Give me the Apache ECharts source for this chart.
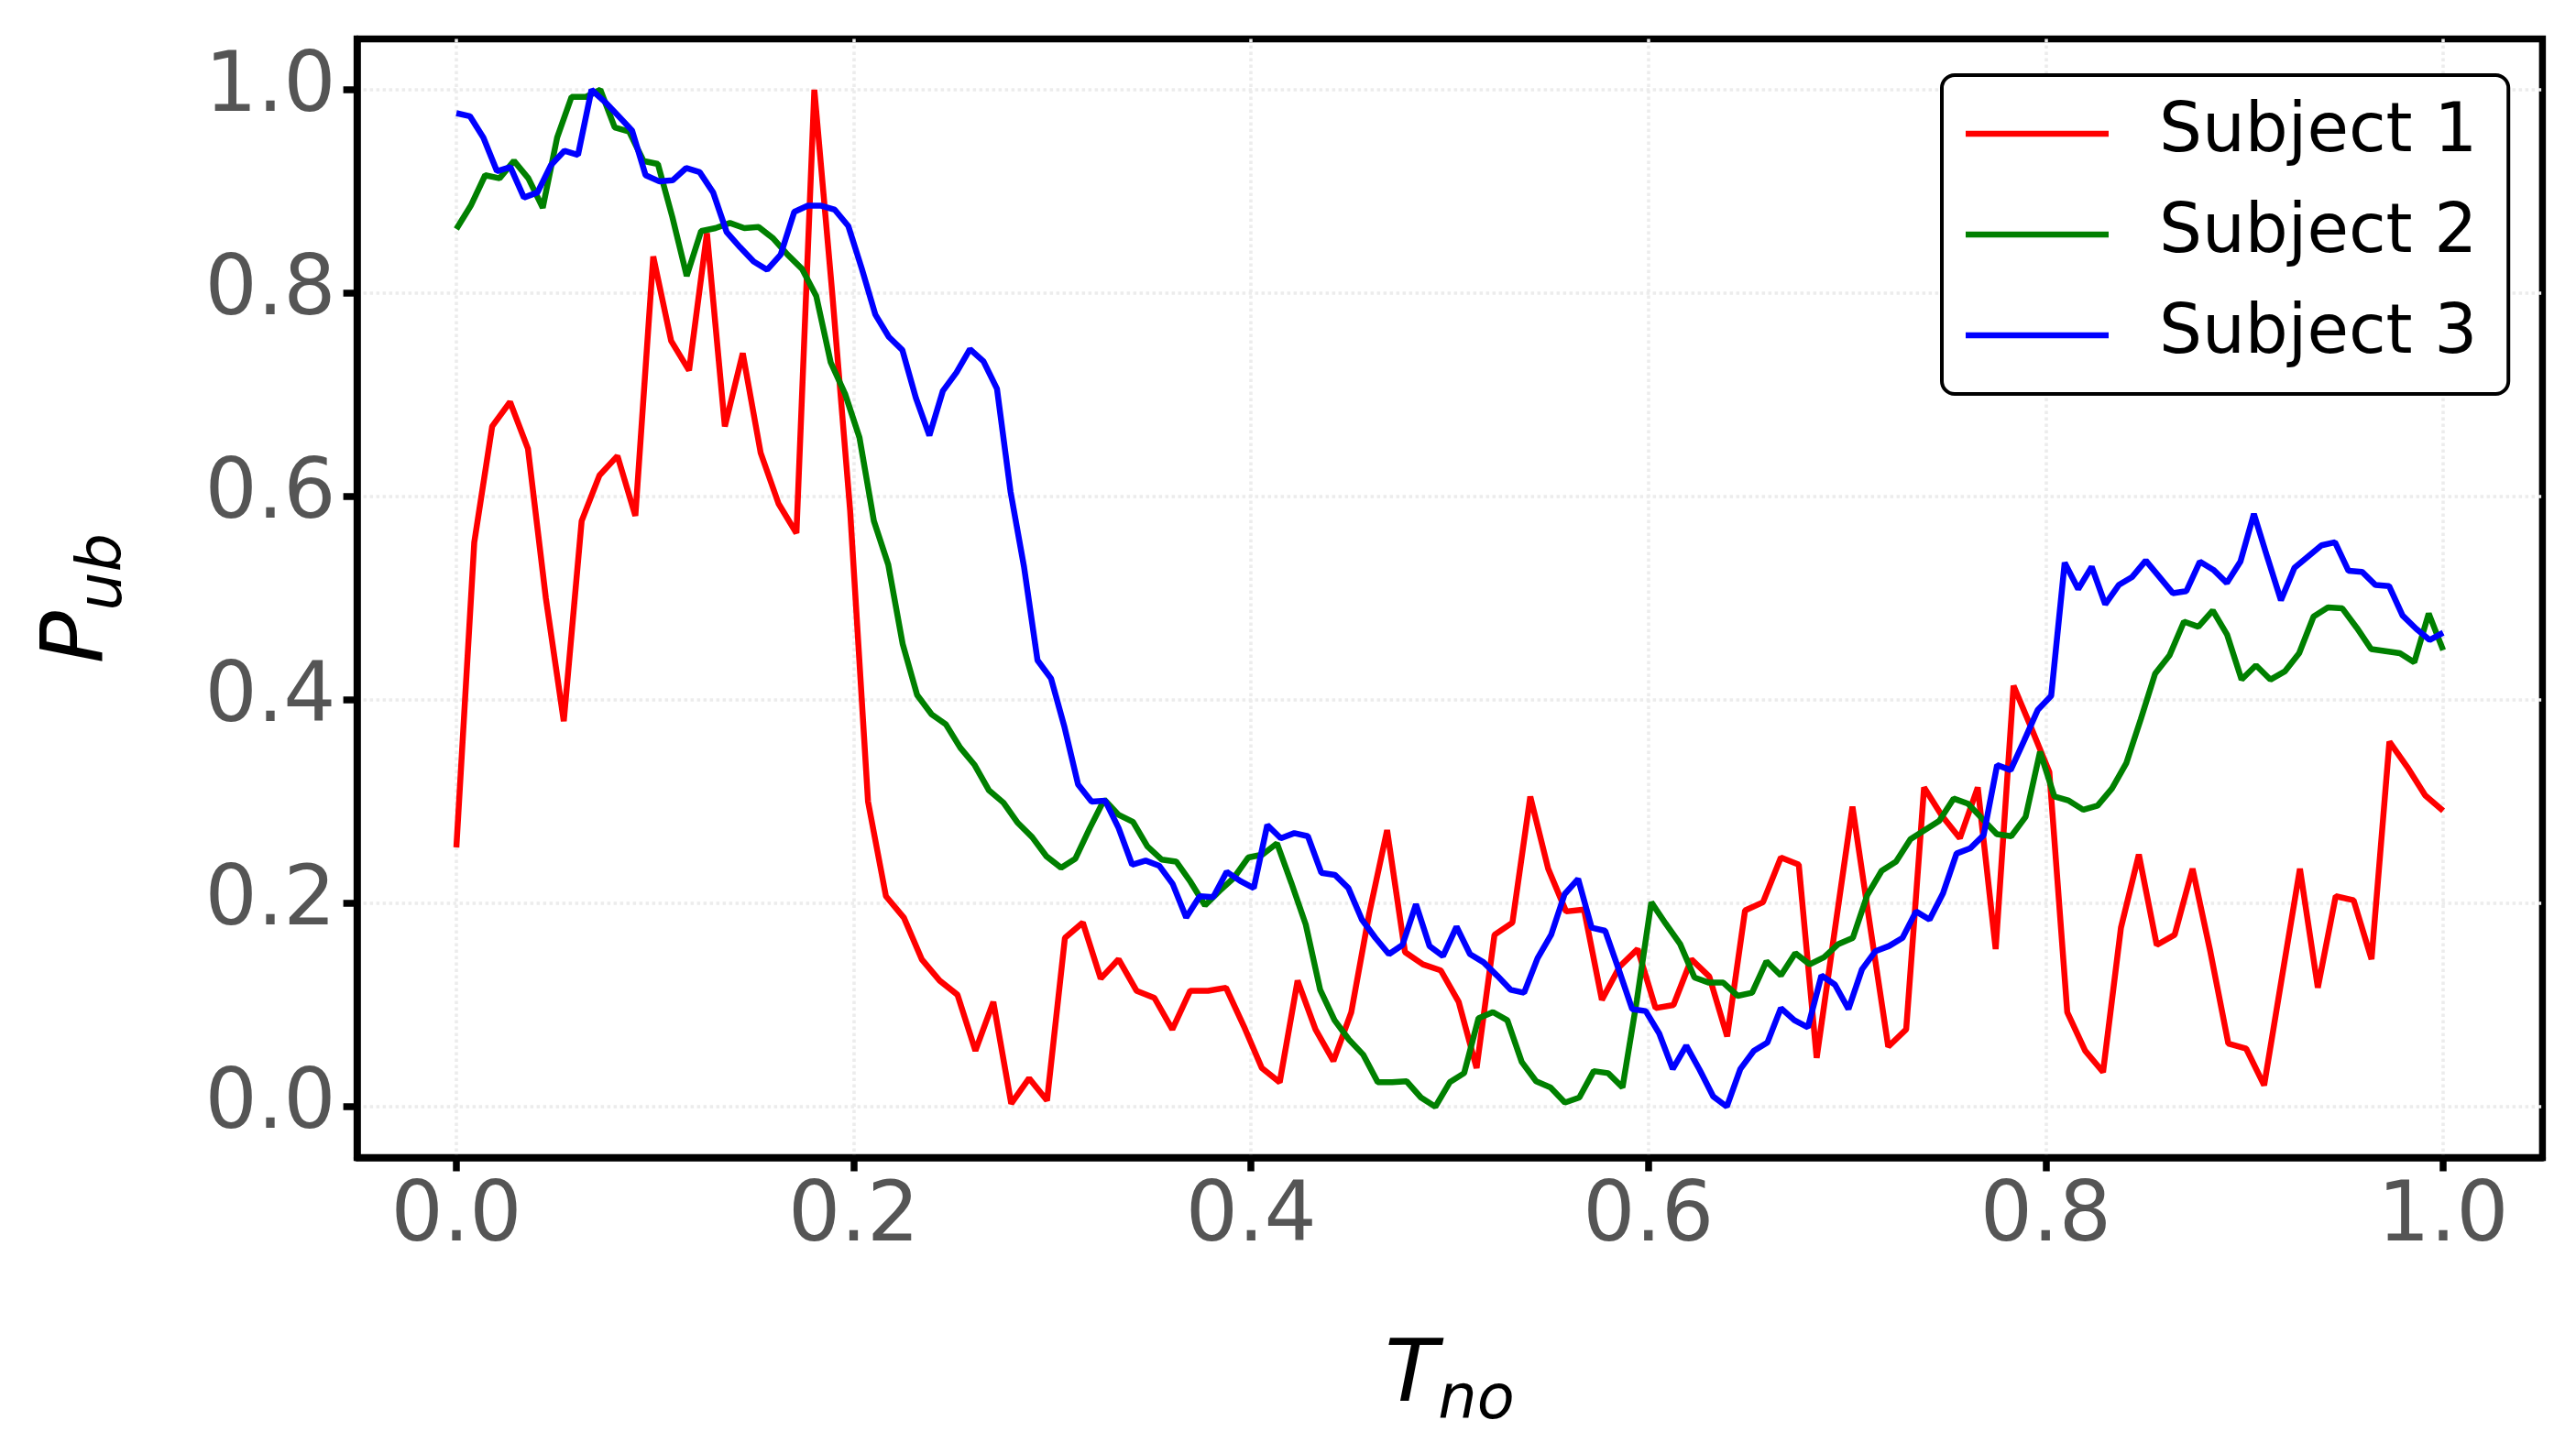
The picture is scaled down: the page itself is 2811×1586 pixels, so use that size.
<!DOCTYPE html>
<html>
<head>
<meta charset="utf-8">
<title>P_ub vs T_no</title>
<script src="https://cdn.jsdelivr.net/npm/echarts@6/dist/echarts.min.js"></script>
<style>
  html, body { margin: 0; padding: 0; background: #fff; }
  #chart { width: 2811px; height: 1586px; }
</style>
</head>
<body>
<div id="chart"></div>
<script>
// tick values, shared by both axes
const tickValues = [0, 0.2, 0.4, 0.6, 0.8, 1.0];
const seriesNames = ['Subject 1', 'Subject 2', 'Subject 3'];
const seriesColors = ['#ff0000', '#008000', '#0000ff'];

// P_ub per subject, each sampled evenly over T_no = 0 .. 1
const subject1 = [
  0.255, 0.555, 0.669, 0.693, 0.647, 0.500, 0.379, 0.576, 0.621, 0.640,
  0.581, 0.836, 0.753, 0.724, 0.859, 0.669, 0.741, 0.643, 0.593, 0.564,
  1.000, 0.800, 0.586, 0.300, 0.207, 0.186, 0.145, 0.124, 0.110, 0.055,
  0.103, 0.003, 0.028, 0.006, 0.166, 0.181, 0.126, 0.145, 0.114, 0.107,
  0.076, 0.114, 0.114, 0.117, 0.079, 0.038, 0.024, 0.124, 0.076, 0.045,
  0.093, 0.190, 0.272, 0.152, 0.140, 0.134, 0.103, 0.038, 0.169, 0.181,
  0.305, 0.234, 0.192, 0.194, 0.105, 0.138, 0.155, 0.097, 0.100, 0.145,
  0.128, 0.069, 0.193, 0.201, 0.245, 0.238, 0.048, 0.172, 0.295, 0.176,
  0.059, 0.076, 0.314, 0.286, 0.264, 0.314, 0.155, 0.414, 0.372, 0.329,
  0.093, 0.055, 0.034, 0.176, 0.248, 0.159, 0.169, 0.234, 0.152, 0.062,
  0.057, 0.021, 0.128, 0.234, 0.117, 0.207, 0.203, 0.145, 0.359, 0.334,
  0.306, 0.291
];
const subject2 = [
  0.863, 0.886, 0.916, 0.913, 0.930, 0.913, 0.884, 0.953, 0.993, 0.993,
  1.000, 0.963, 0.959, 0.930, 0.927, 0.875, 0.817, 0.861, 0.864, 0.869,
  0.864, 0.865, 0.854, 0.838, 0.824, 0.797, 0.732, 0.701, 0.658, 0.576,
  0.533, 0.455, 0.405, 0.386, 0.376, 0.353, 0.336, 0.311, 0.299, 0.279,
  0.265, 0.246, 0.235, 0.244, 0.274, 0.302, 0.287, 0.280, 0.256, 0.243,
  0.241, 0.221, 0.198, 0.212, 0.225, 0.245, 0.248, 0.259, 0.220, 0.179,
  0.115, 0.085, 0.066, 0.051, 0.024, 0.024, 0.025, 0.009, 0.000, 0.024,
  0.033, 0.087, 0.093, 0.085, 0.044, 0.025, 0.019, 0.004, 0.009, 0.035,
  0.033, 0.019, 0.105, 0.201, 0.180, 0.160, 0.127, 0.122, 0.122, 0.109,
  0.112, 0.143, 0.129, 0.151, 0.140, 0.147, 0.160, 0.166, 0.208, 0.232,
  0.241, 0.263, 0.272, 0.281, 0.303, 0.298, 0.283, 0.268, 0.266, 0.285,
  0.349, 0.305, 0.301, 0.292, 0.296, 0.313, 0.338, 0.381, 0.426, 0.444,
  0.477, 0.472, 0.488, 0.464, 0.420, 0.434, 0.420, 0.428, 0.446, 0.482,
  0.491, 0.490, 0.471, 0.450, 0.448, 0.446, 0.437, 0.485, 0.449
];
const subject3 = [
  0.977, 0.974, 0.953, 0.920, 0.924, 0.894, 0.899, 0.926, 0.940, 0.936,
  1.000, 0.988, 0.974, 0.960, 0.916, 0.910, 0.911, 0.923, 0.919, 0.899,
  0.860, 0.845, 0.831, 0.823, 0.838, 0.880, 0.886, 0.886, 0.882, 0.866,
  0.824, 0.779, 0.757, 0.744, 0.697, 0.660, 0.704, 0.722, 0.745, 0.733,
  0.706, 0.605, 0.531, 0.439, 0.421, 0.373, 0.317, 0.300, 0.301, 0.274,
  0.238, 0.242, 0.237, 0.219, 0.186, 0.207, 0.206, 0.231, 0.222, 0.215,
  0.277, 0.264, 0.269, 0.266, 0.230, 0.228, 0.215, 0.184, 0.166, 0.150,
  0.159, 0.199, 0.158, 0.148, 0.177, 0.150, 0.142, 0.129, 0.115, 0.112,
  0.146, 0.169, 0.209, 0.224, 0.176, 0.173, 0.135, 0.096, 0.094, 0.072,
  0.037, 0.060, 0.036, 0.010, 0.000, 0.037, 0.055, 0.063, 0.097, 0.085,
  0.078, 0.129, 0.120, 0.096, 0.135, 0.153, 0.158, 0.166, 0.192, 0.184,
  0.210, 0.249, 0.254, 0.267, 0.336, 0.331, 0.360, 0.390, 0.404, 0.535,
  0.509, 0.531, 0.494, 0.513, 0.521, 0.537, 0.521, 0.505, 0.507, 0.536,
  0.528, 0.515, 0.536, 0.583, 0.540, 0.498, 0.530, 0.541, 0.552, 0.555,
  0.527, 0.526, 0.513, 0.512, 0.483, 0.470, 0.459, 0.466
];

// samples are evenly spaced on the normalised time axis
function toPairs(values) {
  const last = values.length - 1;
  return values.map(function (v, i) { return [i / last, v]; });
}

const font = 'DejaVu Sans';

// math-style axis titles: italic letter + lowered subscript (padding pushes it down)
const titleRich = {
  m: { fontFamily: font, fontStyle: 'italic', fontSize: 95, color: '#000', verticalAlign: 'top' },
  s: { fontFamily: font, fontStyle: 'italic', fontSize: 67, color: '#000', lineHeight: 150,
       verticalAlign: 'top', padding: [41, 0, 0, 0] }
};

function makeAxis(name, gap, labelMargin, labelPadding) {
  return {
    type: 'value',
    min: -0.05,
    max: 1.05,
    name: name,
    nameLocation: 'middle',
    nameGap: gap,
    nameTextStyle: { rich: titleRich },
    axisLine: { show: true, onZero: false, lineStyle: { color: '#000', width: 7.5 } },
    axisTick: {
      show: true, inside: false, length: 15, customValues: tickValues,
      lineStyle: { color: '#000', width: 7.5 }
    },
    axisLabel: {
      customValues: tickValues,
      margin: labelMargin,
      padding: labelPadding,
      fontFamily: font, fontSize: 90, color: '#555555',
      formatter: function (v) { return v.toFixed(1); }
    },
    splitLine: {
      show: true,
      lineStyle: { color: '#ececec', width: 3.5, type: [3.5, 3.5] }
    }
  };
}

const chart = echarts.init(document.getElementById('chart'), null, { renderer: 'canvas' });

const option = {
  animation: false,
  backgroundColor: '#fff',
  grid: {
    left: 389.6, right: 36.6, top: 42.5, bottom: 322.5,
    show: true, borderColor: '#000', borderWidth: 7.5, backgroundColor: 'transparent'
  },
  xAxis: makeAxis('{m|T}{s|no}', 193, 22, [0, 0, 0, 0]),
  yAxis: makeAxis('{m|P}{s|ub}', 200, 23, [8, 0, 0, 0]),
  legend: {
    data: seriesNames,
    orient: 'vertical',
    left: 2119, top: 82,
    padding: [27, 34, 27, 26],
    itemWidth: 156, itemHeight: 74, itemGap: 36,
    icon: 'path://M0,0L156,0L156,6.5L0,6.5Z',
    backgroundColor: '#fff', borderColor: '#000', borderWidth: 4, borderRadius: 14,
    textStyle: { fontFamily: font, fontSize: 74, color: '#000', padding: [0, 0, 0, 50] }
  },
  series: [subject1, subject2, subject3].map(function (vals, k) {
    return {
      name: seriesNames[k],
      type: 'line',
      data: toPairs(vals),
      symbol: 'none',
      color: seriesColors[k],
      lineStyle: { width: 6.5, color: seriesColors[k] }
    };
  })
};

chart.setOption(option);
</script>
</body>
</html>
